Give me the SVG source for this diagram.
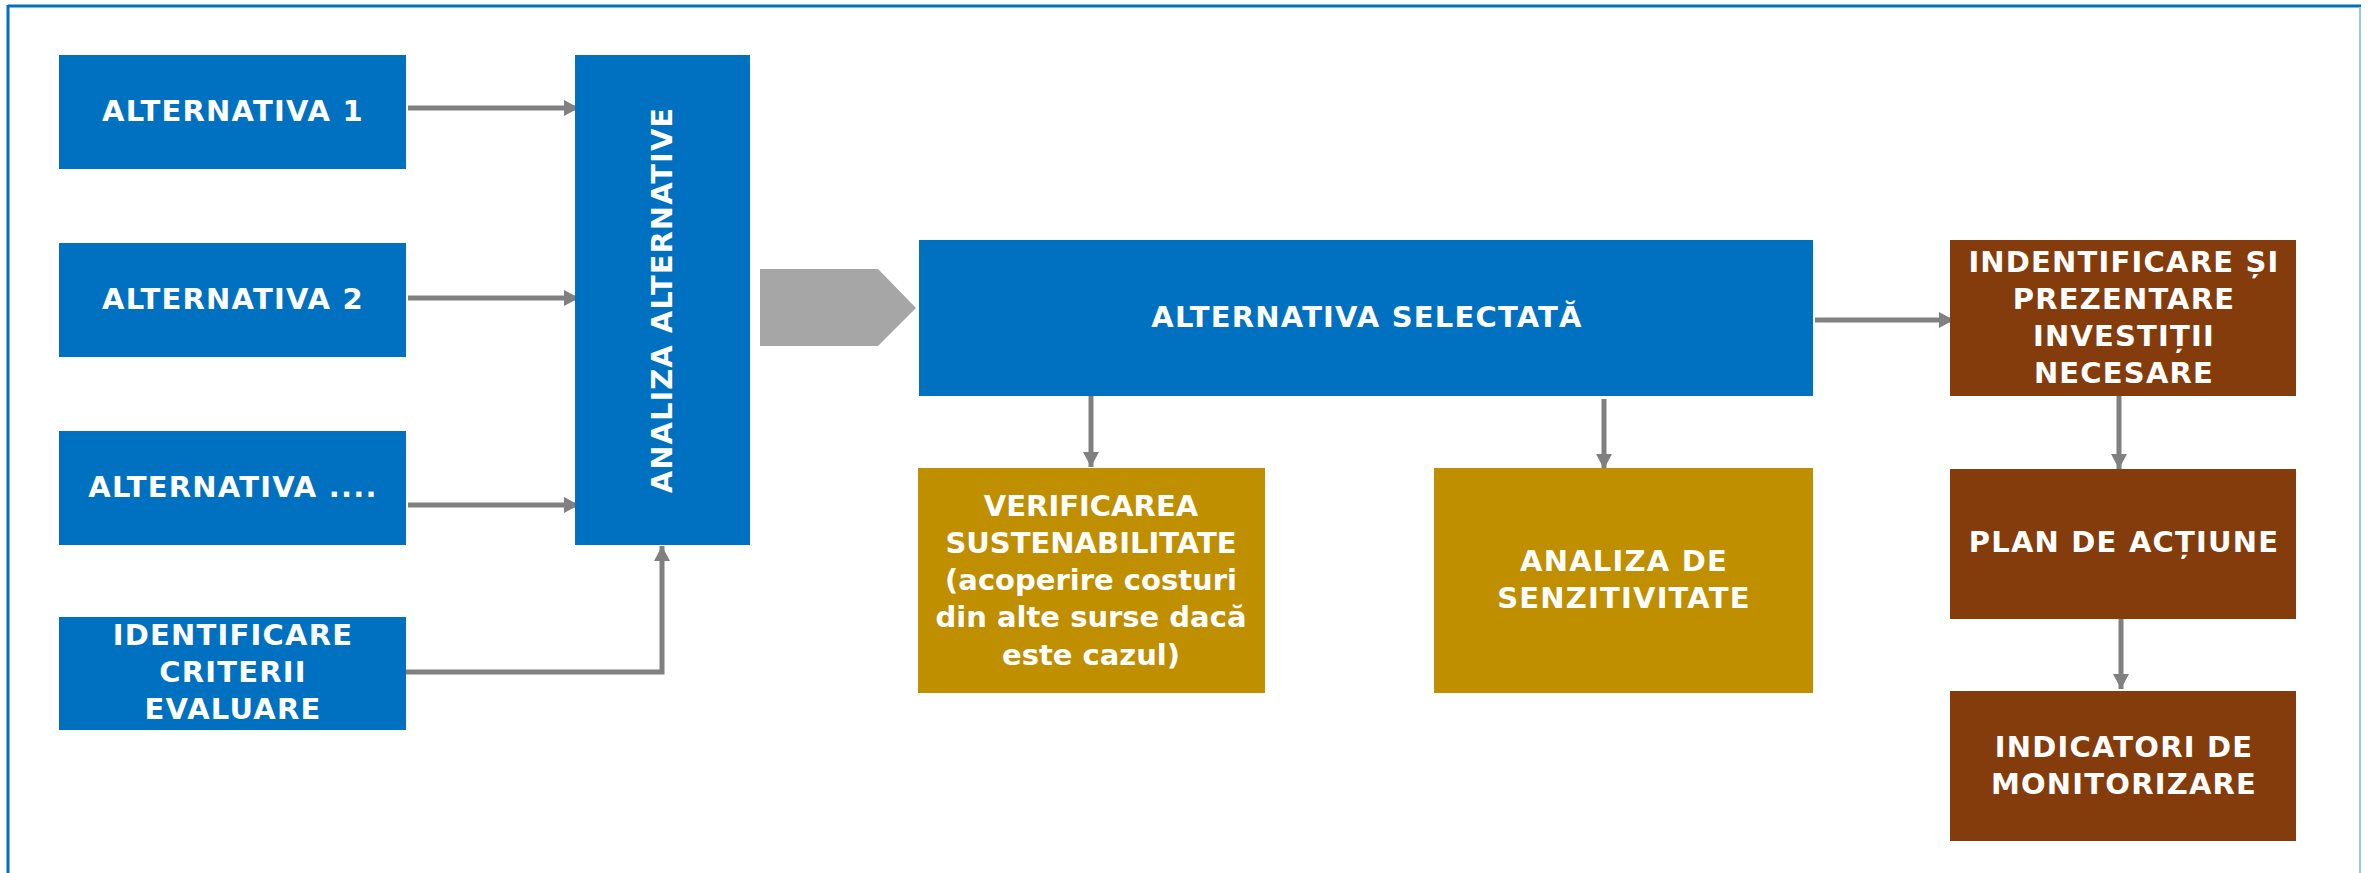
<svg xmlns="http://www.w3.org/2000/svg" width="2369" height="873" viewBox="0 0 2369 873">
<style>
.blue{fill:#0070C0}
.gold{fill:#BF8F00}
.brown{fill:#843C0C}
.t{font-family:"DejaVu Sans","Verdana","Liberation Sans",sans-serif;font-weight:bold;font-size:29px;fill:#FFFFFF;text-anchor:middle}
.u{letter-spacing:1.2px}
.c{stroke:#808080;stroke-width:5;fill:none}
</style>
<defs>
<marker id="ah" markerUnits="userSpaceOnUse" markerWidth="16" markerHeight="16" refX="15" refY="8" orient="auto">
<path d="M0,0 L15,8 L0,16 z" fill="#808080"/>
</marker>
</defs>
<rect x="0" y="0" width="2369" height="873" fill="#FFFFFF"/>
<g id="frame">
<line x1="8" y1="6" x2="2361" y2="6" stroke="#0070C0" stroke-width="3"/>
<line x1="8" y1="5" x2="8" y2="873" stroke="#0070C0" stroke-width="3"/>
<line x1="2360" y1="7" x2="2360" y2="873" stroke="#9DC3E6" stroke-width="2"/>
</g>
<g id="connectors">
<line class="c" x1="408" y1="108" x2="579" y2="108" marker-end="url(#ah)"/>
<line class="c" x1="408" y1="298" x2="579" y2="298" marker-end="url(#ah)"/>
<line class="c" x1="408" y1="505" x2="579" y2="505" marker-end="url(#ah)"/>
<polyline class="c" points="406,672 662,672 662,546" marker-end="url(#ah)"/>
<line class="c" x1="1815" y1="320" x2="1954" y2="320" marker-end="url(#ah)"/>
<line class="c" x1="1091" y1="396" x2="1091" y2="467" marker-end="url(#ah)"/>
<line class="c" x1="1604" y1="399" x2="1604" y2="469" marker-end="url(#ah)"/>
<line class="c" x1="2119" y1="396" x2="2119" y2="469" marker-end="url(#ah)"/>
<line class="c" x1="2121" y1="618" x2="2121" y2="689" marker-end="url(#ah)"/>
</g>
<g id="chevron">
<polygon points="760,269 878,269 916,308 878,346 760,346" fill="#A6A6A6"/>
</g>
<g id="alt1">
<rect class="blue" x="59" y="55" width="347" height="114"/>
<text class="t u" x="233" y="121">ALTERNATIVA 1</text>
</g>
<g id="alt2">
<rect class="blue" x="59" y="243" width="347" height="114"/>
<text class="t u" x="233" y="309">ALTERNATIVA 2</text>
</g>
<g id="alt3">
<rect class="blue" x="59" y="431" width="347" height="114"/>
<text class="t u" x="233" y="497">ALTERNATIVA ....</text>
</g>
<g id="criterii">
<rect class="blue" x="59" y="617" width="347" height="113"/>
<text class="t u" x="233" y="645">IDENTIFICARE</text>
<text class="t u" x="233" y="682">CRITERII</text>
<text class="t u" x="233" y="719">EVALUARE</text>
</g>
<g id="analiza">
<rect class="blue" x="575" y="55" width="175" height="490"/>
<text class="t" x="0" y="0" letter-spacing="1" transform="translate(672,300) rotate(-90)">ANALIZA ALTERNATIVE</text>
</g>
<g id="selectata">
<rect class="blue" x="919" y="240" width="894" height="156"/>
<text class="t u" x="1367" y="327">ALTERNATIVA SELECTATĂ</text>
</g>
<g id="verificarea">
<rect class="gold" x="918" y="468" width="347" height="225"/>
<text class="t" x="1091" y="516">VERIFICAREA</text>
<text class="t" x="1091" y="553">SUSTENABILITATE</text>
<text class="t" x="1091" y="590">(acoperire costuri</text>
<text class="t" x="1091" y="627">din alte surse dacă</text>
<text class="t" x="1091" y="665">este cazul)</text>
</g>
<g id="senzitivitate">
<rect class="gold" x="1434" y="468" width="379" height="225"/>
<text class="t u" x="1624" y="571">ANALIZA DE</text>
<text class="t u" x="1624" y="608">SENZITIVITATE</text>
</g>
<g id="investitii">
<rect class="brown" x="1950" y="240" width="346" height="156"/>
<text class="t u" x="2124" y="272">INDENTIFICARE ȘI</text>
<text class="t u" x="2124" y="309">PREZENTARE</text>
<text class="t u" x="2124" y="346">INVESTIȚII</text>
<text class="t u" x="2124" y="383">NECESARE</text>
</g>
<g id="plan">
<rect class="brown" x="1950" y="469" width="346" height="150"/>
<text class="t u" x="2124" y="552">PLAN DE ACȚIUNE</text>
</g>
<g id="indicatori">
<rect class="brown" x="1950" y="691" width="346" height="150"/>
<text class="t u" x="2124" y="757">INDICATORI DE</text>
<text class="t u" x="2124" y="794">MONITORIZARE</text>
</g>
</svg>
